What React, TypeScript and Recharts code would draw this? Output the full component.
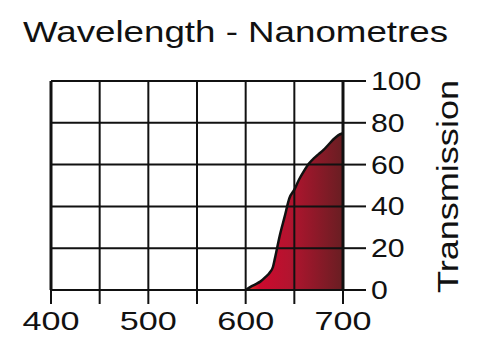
import {
  ComposedChart,
  Area,
  XAxis,
  YAxis,
  ReferenceLine,
} from "recharts";

const wavelengths = [600, 605, 610, 615, 620, 625, 628, 630, 635, 640, 645, 650, 655, 660, 665, 670, 675, 680, 685, 690, 695, 700];
const transmission = [0, 1.5, 2.7, 4, 6, 8.5, 11, 15, 26, 35, 44, 48, 53, 57, 60.5, 63, 65, 67, 69.5, 72, 74, 75];

const xTicks = [400, 450, 500, 550, 600, 650, 700];
const yTicks = [0, 20, 40, 60, 80, 100];

const data = wavelengths.map((w, i) => ({ nm: w, t: transmission[i] }));

const font = '"Liberation Sans", Arial, sans-serif';

function XTick(props: any) {
  const { x, payload } = props;
  if (payload.value % 100 !== 0) return null;
  return (
    <text x={x} y={330} textAnchor="middle" fontSize={25.6} fontFamily={font} fill="#111" textLength={57} lengthAdjust="spacingAndGlyphs">
      {payload.value}
    </text>
  );
}

function YTick(props: any) {
  const { y, payload } = props;
  const s = String(payload.value);
  return (
    <text x={371} y={y + 9} fontSize={25.6} fontFamily={font} fill="#111" textLength={s.length * 16.8} lengthAdjust="spacingAndGlyphs">
      {s}
    </text>
  );
}

export default function App() {
  return (
    <div style={{ position: "absolute", left: 0, top: 0, width: 500, height: 352, background: "#fff" }}>
      <ComposedChart width={500} height={352} data={data} margin={{ top: 81, right: 0, bottom: 0, left: 51 }}>
        <defs>
          <linearGradient id="redFill" x1="0" y1="0" x2="1" y2="0">
            <stop offset="0%" stopColor="#e8452a" />
            <stop offset="15%" stopColor="#cc0a2e" />
            <stop offset="45%" stopColor="#b3142f" />
            <stop offset="100%" stopColor="#681e22" />
          </linearGradient>
        </defs>
        <XAxis
          dataKey="nm"
          type="number"
          domain={[400, 700]}
          ticks={xTicks}
          interval={0}
          height={62}
          tickSize={14}
          tickLine={{ stroke: "#111", strokeWidth: 2 }}
          axisLine={{ stroke: "#111", strokeWidth: 2 }}
          tick={<XTick />}
        />
        <YAxis
          orientation="right"
          type="number"
          domain={[0, 100]}
          ticks={yTicks}
          interval={0}
          width={157}
          tickSize={23}
          tickLine={{ stroke: "#111", strokeWidth: 2 }}
          axisLine={{ stroke: "#111", strokeWidth: 3 }}
          tick={<YTick />}
        />
        <Area
          dataKey="t"
          type="monotone"
          fill="url(#redFill)"
          fillOpacity={1}
          stroke="#111"
          strokeWidth={2.5}
          isAnimationActive={false}
        />
        {xTicks.map((v) => (
          <ReferenceLine key={"x" + v} x={v} stroke="#111" strokeWidth={v === 400 ? 3 : 2} />
        ))}
        {yTicks.map((v) => (
          <ReferenceLine key={"y" + v} y={v} stroke="#111" strokeWidth={2} />
        ))}
      </ComposedChart>
      <svg width={500} height={352} style={{ position: "absolute", left: 0, top: 0, pointerEvents: "none" }}>
        <text x={23} y={41.7} fontSize={29} fontFamily={font} fill="#111" textLength={425} lengthAdjust="spacingAndGlyphs">
          Wavelength - Nanometres
        </text>
        <text
          transform="translate(458,186.5) rotate(-90)"
          textAnchor="middle"
          fontSize={30}
          fontFamily={font}
          fill="#111"
          textLength={213}
          lengthAdjust="spacingAndGlyphs"
        >
          Transmission
        </text>
      </svg>
    </div>
  );
}
